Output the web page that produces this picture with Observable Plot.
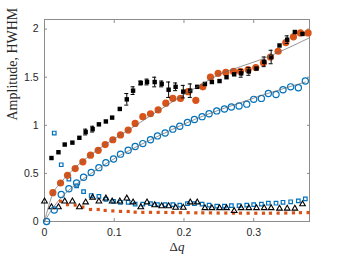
<!DOCTYPE html>
<html><head><meta charset="utf-8">
<script src="https://cdn.jsdelivr.net/npm/d3@7"></script>
<script src="https://cdn.jsdelivr.net/npm/@observablehq/plot@0.6"></script>
<style>body{margin:0;background:#fff}</style>
</head><body><div id="chart"></div>
<script>
// ---- data ----
const qBlue = [0.003,0.014,0.024,0.035,0.046,0.056,0.067,0.078,0.088,0.099,0.109,0.120,0.130,0.141,0.152,0.162,0.173,0.184,0.194,0.205,0.215,0.226,0.236,0.247,0.258,0.268,0.279,0.290,0.300,0.311,0.321,0.332,0.342,0.353,0.364,0.374];
const blueCircle = [0,0.12,0.28,0.34,0.40,0.46,0.51,0.56,0.61,0.65,0.70,0.74,0.78,0.81,0.85,0.89,0.92,0.96,0.99,1.03,1.06,1.09,1.12,1.15,1.17,1.19,1.20,1.22,1.27,1.28,1.33,1.32,1.37,1.40,1.39,1.46];
const blueSquare = [null,0.92,0.59,0.44,0.37,0.31,0.27,0.26,0.23,0.21,0.20,0.20,0.18,0.18,0.185,0.175,0.175,0.175,0.17,0.185,0.185,0.18,0.17,0.16,0.16,0.165,0.165,0.17,0.175,0.18,0.19,0.19,0.20,0.205,0.215,0.235];

const qOrange = [0.012,0.023,0.033,0.044,0.055,0.066,0.077,0.087,0.098,0.109,0.120,0.130,0.141,0.152,0.163,0.174,0.184,0.195,0.206,0.217,0.227,0.238,0.249,0.260,0.271,0.281,0.292,0.303,0.314,0.324,0.335,0.346,0.357,0.367,0.378];
const orangeCircle = [0.30,0.40,0.48,0.55,0.62,0.69,0.74,0.80,0.85,0.90,0.95,1.02,1.09,1.12,1.16,1.23,1.28,1.28,1.35,1.26,1.40,1.50,1.54,1.55,1.56,1.56,1.58,1.60,1.65,1.71,1.77,1.86,1.92,1.96,1.96];
const orangeSquare = [null,0.21,0.175,0.17,0.15,0.125,0.125,0.115,0.11,0.105,0.104,0.097,0.095,0.095,0.095,0.094,0.093,0.092,0.092,0.09,0.09,0.09,0.088,0.088,0.087,0.087,0.086,0.086,0.086,0.086,0.087,0.088,0.09,0.092,0.093];

const qBlack = [0.000,0.010,0.020,0.029,0.040,0.050,0.059,0.069,0.078,0.088,0.097,0.108,0.118,0.127,0.138,0.147,0.158,0.168,0.178,0.188,0.199,0.209,0.219,0.230,0.240,0.251,0.261,0.272,0.282,0.293,0.304,0.315,0.325,0.337,0.348,0.359,0.370];
const blackSquare = [null,0.66,0.72,0.80,0.82,0.87,0.93,0.96,1.01,1.04,1.08,1.17,1.27,1.36,1.44,1.45,1.45,1.43,1.37,1.40,1.35,1.36,1.40,1.43,1.45,1.46,1.50,1.53,1.54,1.56,1.59,1.66,1.71,1.83,1.89,1.97,1.95];
const blackErr = [0,0,0,0,0,0,0.03,0.03,0,0,0,0,0.06,0.04,0.02,0.03,0.05,0.03,0.08,0.04,0.065,0.07,0,0,0,0,0,0,0.04,0.04,0,0.05,0.07,0,0.04,0,0];
const blackTriangle = [0.21,0.15,0.15,0.21,0.21,0.15,0.20,0.25,0.21,0.24,0.21,0.21,0.24,0.20,0.15,0.20,0.17,0.16,0.16,0.145,0.145,0.20,0.20,0.14,0.14,0.14,0.14,0.11,0.14,0.14,0.14,0.14,0.14,0.135,0.135,0.135,0.18];

const fitOrangeQ = [0,0.012,0.023,0.044,0.066,0.087,0.109,0.131,0.152,0.174,0.200,0.224,0.248,0.281,0.309,0.345,0.380];
const fitOrangeV = [0,0.29,0.40,0.56,0.69,0.80,0.90,1.00,1.10,1.20,1.32,1.42,1.52,1.61,1.68,1.79,1.91];
const fitBlueQ = [0,0.014,0.024,0.046,0.067,0.088,0.109,0.130,0.152,0.184,0.215,0.247,0.279,0.311,0.342,0.374];
const fitBlueV = [0,0.16,0.25,0.39,0.50,0.60,0.69,0.77,0.85,0.96,1.06,1.15,1.23,1.31,1.38,1.45];

const xTicks = [0,0.1,0.2,0.3];
const xTickLabels = ["0","0.1","0.2","0.3"];
const yTicks = [0,0.5,1,1.5,2];
const yTickLabels = ["0","0.5","1","1.5","2"];
const xLabel = "Δq";
const yLabel = "Amplitude, HWHM";

// ---- build tables ----
const zip = (qs, vs, extra) => qs.map((q, i) => ({q, v: vs[i], e: extra ? extra[i] : 0})).filter(d => d.v != null);
const bCirc = zip(qBlue, blueCircle);
const bSq = zip(qBlue, blueSquare);
const oCirc = zip(qOrange, orangeCircle);
const oSq = zip(qOrange, orangeSquare);
const kSq = zip(qBlack, blackSquare, blackErr);
const kErr = kSq.filter(d => d.e > 0);
const kTri = zip(qBlack, blackTriangle);
const fitO = zip(fitOrangeQ, fitOrangeV);
const fitB = zip(fitBlueQ, fitBlueV);

const BLUE = "#0072BD", ORANGE = "#D95319", AX = "#8c8c8c", TXT = "#262626";
const tickFont = {fontFamily: "Liberation Sans, Arial, sans-serif", fontSize: 10.5, fill: TXT};

const chart = Plot.plot({
  width: 342, height: 256,
  marginLeft: 44, marginRight: 33, marginTop: 19, marginBottom: 35,
  x: {domain: [0, 0.38]},
  y: {domain: [0, 2.1]},
  style: {background: "#fff", fontFamily: "Liberation Sans, Arial, sans-serif"},
  marks: [
    Plot.frame({stroke: AX}),
    Plot.axisX({ticks: xTicks, anchor: "bottom", tickSize: -3, tickFormat: () => "", stroke: AX, label: null}),
    Plot.axisX({ticks: xTicks, anchor: "top", tickSize: -3, tickFormat: () => "", stroke: AX, label: null}),
    Plot.axisY({ticks: yTicks, anchor: "left", tickSize: -3, tickFormat: () => "", stroke: AX, label: null}),
    Plot.axisY({ticks: yTicks, anchor: "right", tickSize: -3, tickFormat: () => "", stroke: AX, label: null}),
    Plot.axisX({ticks: xTicks, anchor: "bottom", tickSize: 0, tickPadding: 7, tickFormat: d => xTickLabels[xTicks.indexOf(d)], label: null, ...tickFont}),
    Plot.axisY({ticks: yTicks, anchor: "left", tickSize: 0, tickPadding: 6, tickFormat: d => yTickLabels[yTicks.indexOf(d)], label: null, ...tickFont}),
    // small markers
    Plot.dot(oSq, {x: "q", y: "v", symbol: "square", r: 1.8, fill: ORANGE, stroke: "none"}),
    Plot.dot(bSq, {x: "q", y: "v", symbol: "square", r: 2.0, fill: "none", stroke: BLUE, strokeWidth: 1.2}),
    Plot.dot(kTri, {x: "q", y: "v", symbol: "triangle", r: 2.1, fill: "none", stroke: "black", strokeWidth: 1.1}),
    // large markers
    Plot.dot(bCirc, {x: "q", y: "v", r: 3.1, fill: "none", stroke: BLUE, strokeWidth: 1.2}),
    Plot.dot(oCirc, {x: "q", y: "v", r: 3.6, fill: ORANGE, stroke: "none"}),
    Plot.ruleX(kErr, {x: "q", y1: d => d.v - d.e, y2: d => d.v + d.e, stroke: "black", strokeWidth: 1}),
    Plot.ruleY(kErr, {x1: "q", x2: "q", y: d => d.v + d.e, insetLeft: -2, insetRight: -2, stroke: "black", strokeWidth: 1}),
    Plot.ruleY(kErr, {x1: "q", x2: "q", y: d => d.v - d.e, insetLeft: -2, insetRight: -2, stroke: "black", strokeWidth: 1}),
    Plot.dot(kSq, {x: "q", y: "v", symbol: "square", r: 2.5, fill: "black", stroke: "none"}),
    // fit lines
    Plot.line(fitO, {x: "q", y: "v", stroke: "#666", strokeWidth: 0.7, curve: "monotone-x"}),
    Plot.line(fitB, {x: "q", y: "v", stroke: "#666", strokeWidth: 0.7, curve: "monotone-x"}),
    // axis titles
    Plot.text([yLabel], {frameAnchor: "left", dx: -32, rotate: -90, fontFamily: "Liberation Serif, serif", fontSize: 14, fill: TXT}),
    Plot.text([xLabel], {frameAnchor: "bottom", dy: 29, fontFamily: "Liberation Serif, serif", fontSize: 13, fill: TXT})
  ]
});
document.getElementById("chart").appendChild(chart);
// italic q in the x label
chart.querySelectorAll("text").forEach(t => {
  if (t.textContent === xLabel) {
    t.textContent = "Δ";
    const ts = document.createElementNS("http://www.w3.org/2000/svg", "tspan");
    ts.setAttribute("font-style", "italic");
    ts.textContent = "q";
    t.appendChild(ts);
  }
});
</script>
</body></html>
